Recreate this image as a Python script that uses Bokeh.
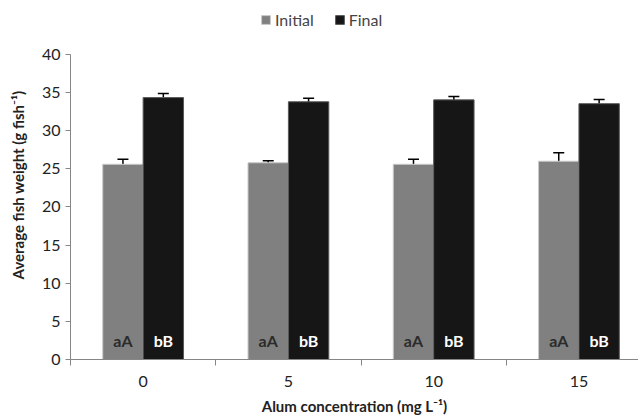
from bokeh.plotting import figure
from bokeh.models import (ColumnDataSource, FixedTicker, Whisker, TeeHead, Legend, LegendItem)
from bokeh.core.properties import value
from bokeh.embed import file_html
from bokeh.resources import INLINE
import numpy as np

categories = ["0", "5", "10", "15"]
initial = [25.6, 25.8, 25.6, 26.0]
initial_err = [0.65, 0.25, 0.65, 1.1]
final = [34.35, 33.8, 34.05, 33.55]
final_err = [0.55, 0.45, 0.45, 0.55]
initial_labels = ["aA", "aA", "aA", "aA"]
final_labels = ["bB", "bB", "bB", "bB"]

FONT = "Lato"
idx = np.arange(len(categories))
bw = 0.278

# frame extends above 40 so the legend can sit inside it; the y axis line is bounded to 0-40
p = figure(width=638, height=417, output_backend="svg", toolbar_location=None,
           x_range=(-0.5, 3.41), y_range=(0, 45.77), min_border_left=70,
           min_border_top=10, min_border_right=0, min_border_bottom=0)
p.outline_line_color = None
p.grid.grid_line_color = None

src_i = ColumnDataSource(dict(x=idx - bw / 2, top=initial, lo=np.array(initial) - np.array(initial_err),
                              hi=np.array(initial) + np.array(initial_err), lab=initial_labels))
src_f = ColumnDataSource(dict(x=idx + bw / 2, top=final, lo=np.array(final) - np.array(final_err),
                              hi=np.array(final) + np.array(final_err), lab=final_labels))

ri = p.vbar(x="x", top="top", width=bw, source=src_i, fill_color="#808080", line_color="#c8c8c8", line_width=1)
rf = p.vbar(x="x", top="top", width=bw, source=src_f, fill_color="#161616", line_color="#5a5a5a", line_width=1)

for s in (src_i, src_f):
    w = Whisker(base="x", lower="lo", upper="hi", source=s, line_color="black", line_width=1.5,
                upper_head=TeeHead(size=11, line_color="black", line_width=1.5),
                lower_head=TeeHead(size=11, line_color="black", line_width=1.5))
    p.add_layout(w)

p.text(x="x", y=2.5, text="lab", source=src_i, text_align="center", text_baseline="middle",
       text_font=value(FONT), text_font_style="bold", text_font_size="16px", text_color="#2b2b2b")
p.text(x="x", y=2.5, text="lab", source=src_f, text_align="center", text_baseline="middle",
       text_font=value(FONT), text_font_style="bold", text_font_size="16px", text_color="white")

# axes
p.yaxis.ticker = FixedTicker(ticks=list(range(0, 41, 5)))
p.yaxis.bounds = (0, 40)
p.yaxis.axis_line_color = "#868686"
p.yaxis.major_tick_line_color = "#868686"
p.yaxis.major_tick_in = 0
p.yaxis.major_tick_out = 5
p.yaxis.minor_tick_line_color = None
p.yaxis.major_label_text_font = FONT
p.yaxis.major_label_text_font_size = "16px"
p.yaxis.major_label_text_color = "#222222"
p.yaxis.axis_label = "Average fish weight (g fish⁻¹)"
p.yaxis.axis_label_text_font = FONT
p.yaxis.axis_label_text_font_style = "bold"
p.yaxis.axis_label_text_font_size = "15px"
p.yaxis.axis_label_text_color = "#222222"
p.yaxis.axis_label_standoff = 12

p.xaxis.ticker = FixedTicker(ticks=list(idx), minor_ticks=[-0.5, 0.5, 1.5, 2.5])
p.xaxis.major_label_overrides = {int(i): c for i, c in zip(idx, categories)}
p.xaxis.axis_line_color = "#868686"
p.xaxis.major_tick_line_color = None
p.xaxis.minor_tick_line_color = "#868686"
p.xaxis.minor_tick_in = 0
p.xaxis.minor_tick_out = 6
p.xaxis.major_label_standoff = 10
p.xaxis.major_label_text_font = FONT
p.xaxis.major_label_text_font_size = "16px"
p.xaxis.major_label_text_color = "#222222"
p.xaxis.axis_label = "Alum concentration (mg L⁻¹)"
p.xaxis.axis_label_text_font = FONT
p.xaxis.axis_label_text_font_style = "bold"
p.xaxis.axis_label_text_font_size = "15px"
p.xaxis.axis_label_text_color = "#222222"
p.xaxis.axis_label_standoff = 7

legend = Legend(items=[LegendItem(label="Initial", renderers=[ri]), LegendItem(label="Final", renderers=[rf])],
                orientation="horizontal", location=(190, 330), border_line_color=None,
                background_fill_alpha=0, label_text_font=FONT, label_text_font_size="16px",
                glyph_width=11, glyph_height=11, spacing=20, label_standoff=4, padding=0, margin=0)
p.add_layout(legend, "center")

open("out.html", "w").write(file_html(p, INLINE))
